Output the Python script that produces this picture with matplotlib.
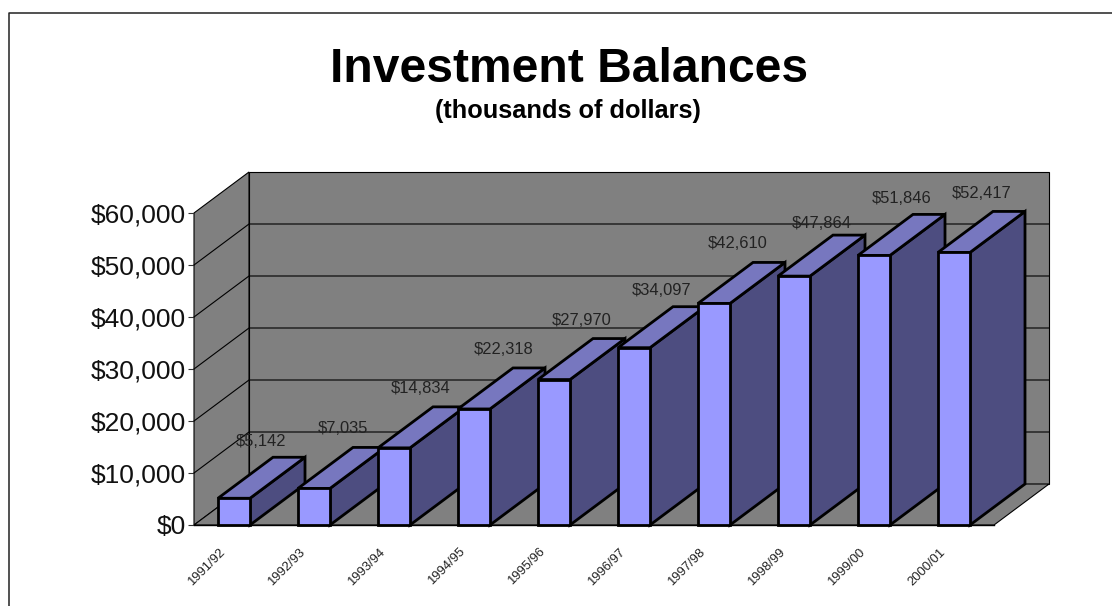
import matplotlib
matplotlib.use('Agg')
from matplotlib import pyplot as plt
from matplotlib.lines import Line2D
from matplotlib.patches import Polygon
from matplotlib.transforms import ScaledTranslation

plt.rcParams['font.family'] = ['Liberation Sans', 'DejaVu Sans']

years = ['1991/92', '1992/93', '1993/94', '1994/95', '1995/96',
         '1996/97', '1997/98', '1998/99', '1999/00', '2000/01']
balances = [5142, 7035, 14834, 22318, 27970, 34097, 42610, 47864, 51846, 52417]
y_ticks = [0, 10000, 20000, 30000, 40000, 50000, 60000]

# hand-placed nudges for the value labels, in pixels
label_dx = [0, 1, -1, 2, 0, 0, -4, 0, 0, 0]
label_dy = [16, 19, 18, 18, 18, 16, 19, 12, 16, 18]

W, H = 1112, 606
LEFT, BOTTOM = 194, 525
CAT_PX = 80
VAL_PX = 312 / 60000
DEPTH_PX = (55, 41)

FACE = '#9999FF'
TOP = '#7777BF'
SIDE = '#4D4D80'
WALL = '#808080'

fig = plt.figure(figsize=(W / 100, H / 100), dpi=100, facecolor='white')

# outer frame: only the top and left edges fall inside the canvas
frame_x = 9 / W
frame_y = 1 - 13 / H
fig.add_artist(Line2D([frame_x, frame_x, 1.0], [0.0, frame_y, frame_y],
                      transform=fig.transFigure, color='#222222', linewidth=1.1))

# the axes runs from the front-left floor corner to the back-right top corner
n = len(years)
depth_x = DEPTH_PX[0] / CAT_PX
depth_y = DEPTH_PX[1] / VAL_PX
top_val = y_ticks[-1]
ax_w = n * CAT_PX + DEPTH_PX[0]
ax_h = top_val * VAL_PX + DEPTH_PX[1]
ax = fig.add_axes([LEFT / W, (H - BOTTOM) / H, ax_w / W, ax_h / H])
ax.set_xlim(0, n + depth_x)
ax.set_ylim(0, top_val + depth_y)
ax.patch.set_visible(False)
for spine in ax.spines.values():
    spine.set_visible(False)


def add_poly(points, color, lw=1.0, edge='black', z=1):
    ax.add_patch(Polygon(points, closed=True, facecolor=color, edgecolor=edge,
                         linewidth=lw, joinstyle='miter', zorder=z,
                         clip_on=False))


# walls and floor
add_poly([(depth_x, depth_y), (n + depth_x, depth_y),
          (n + depth_x, top_val + depth_y), (depth_x, top_val + depth_y)], WALL, 0.8)
add_poly([(0, 0), (depth_x, depth_y), (depth_x, top_val + depth_y), (0, top_val)], WALL, 0.8)
add_poly([(0, 0), (n, 0), (n + depth_x, depth_y), (depth_x, depth_y)], WALL, 0.8)

# gridlines around the walls
for v in y_ticks[1:-1]:
    ax.plot([0, depth_x, n + depth_x], [v, v + depth_y, v + depth_y],
            color='black', linewidth=0.8, zorder=2, clip_on=False)
ax.plot([0, n], [0, 0], color='black', linewidth=1.0, zorder=2, clip_on=False)

# bars, drawn left to right so each one hides the side of the previous
bar_w = 0.4
bar_off = 0.3
for i, v in enumerate(balances):
    x0 = i + bar_off
    x1 = x0 + bar_w
    z = 3 + i
    add_poly([(x1, 0), (x1 + depth_x, depth_y), (x1 + depth_x, v + depth_y), (x1, v)], SIDE, 2.0, z=z)
    add_poly([(x0, v), (x1, v), (x1 + depth_x, v + depth_y), (x0 + depth_x, v + depth_y)], TOP, 2.0, z=z)
    add_poly([(x0, 0), (x1, 0), (x1, v), (x0, v)], FACE, 2.0, z=z)

# value labels sit above the middle of each bar top
for i, v in enumerate(balances):
    ax.annotate(f'${v:,}',
                xy=(i + bar_off + bar_w / 2 + depth_x / 2, v + depth_y),
                xytext=(label_dx[i] * 0.72, label_dy[i] * 0.72),
                textcoords='offset points', ha='center', va='center',
                fontsize=11.9, color='#222222', zorder=30, annotation_clip=False)

ax.set_yticks(y_ticks)
ax.set_yticklabels([f'${v:,}' for v in y_ticks], fontsize=19, color='#111111')
ax.tick_params(axis='y', direction='out', length=4, width=0.8, pad=2, color='#333333')

ax.set_xticks([i + 0.5 for i in range(n)])
ax.set_xticklabels(years, fontsize=9.4, rotation=45, ha='right',
                   rotation_mode='anchor', color='#222222')
ax.tick_params(axis='x', length=0, pad=15)
# pull the slanted year labels left of their bar centres
shift = ScaledTranslation(-15 / 100, 0, fig.dpi_scale_trans)
for label in ax.get_xticklabels():
    label.set_transform(label.get_transform() + shift)

fig.text(569 / W, 1 - 82 / H, 'Investment Balances', ha='center', va='baseline',
         fontsize=34.6, fontweight='bold', color='black')
fig.text(568 / W, 1 - 118 / H, '(thousands of dollars)', ha='center', va='baseline',
         fontsize=18.3, fontweight='bold', color='black')

fig.savefig('out.png', dpi=100)
plt.close(fig)
